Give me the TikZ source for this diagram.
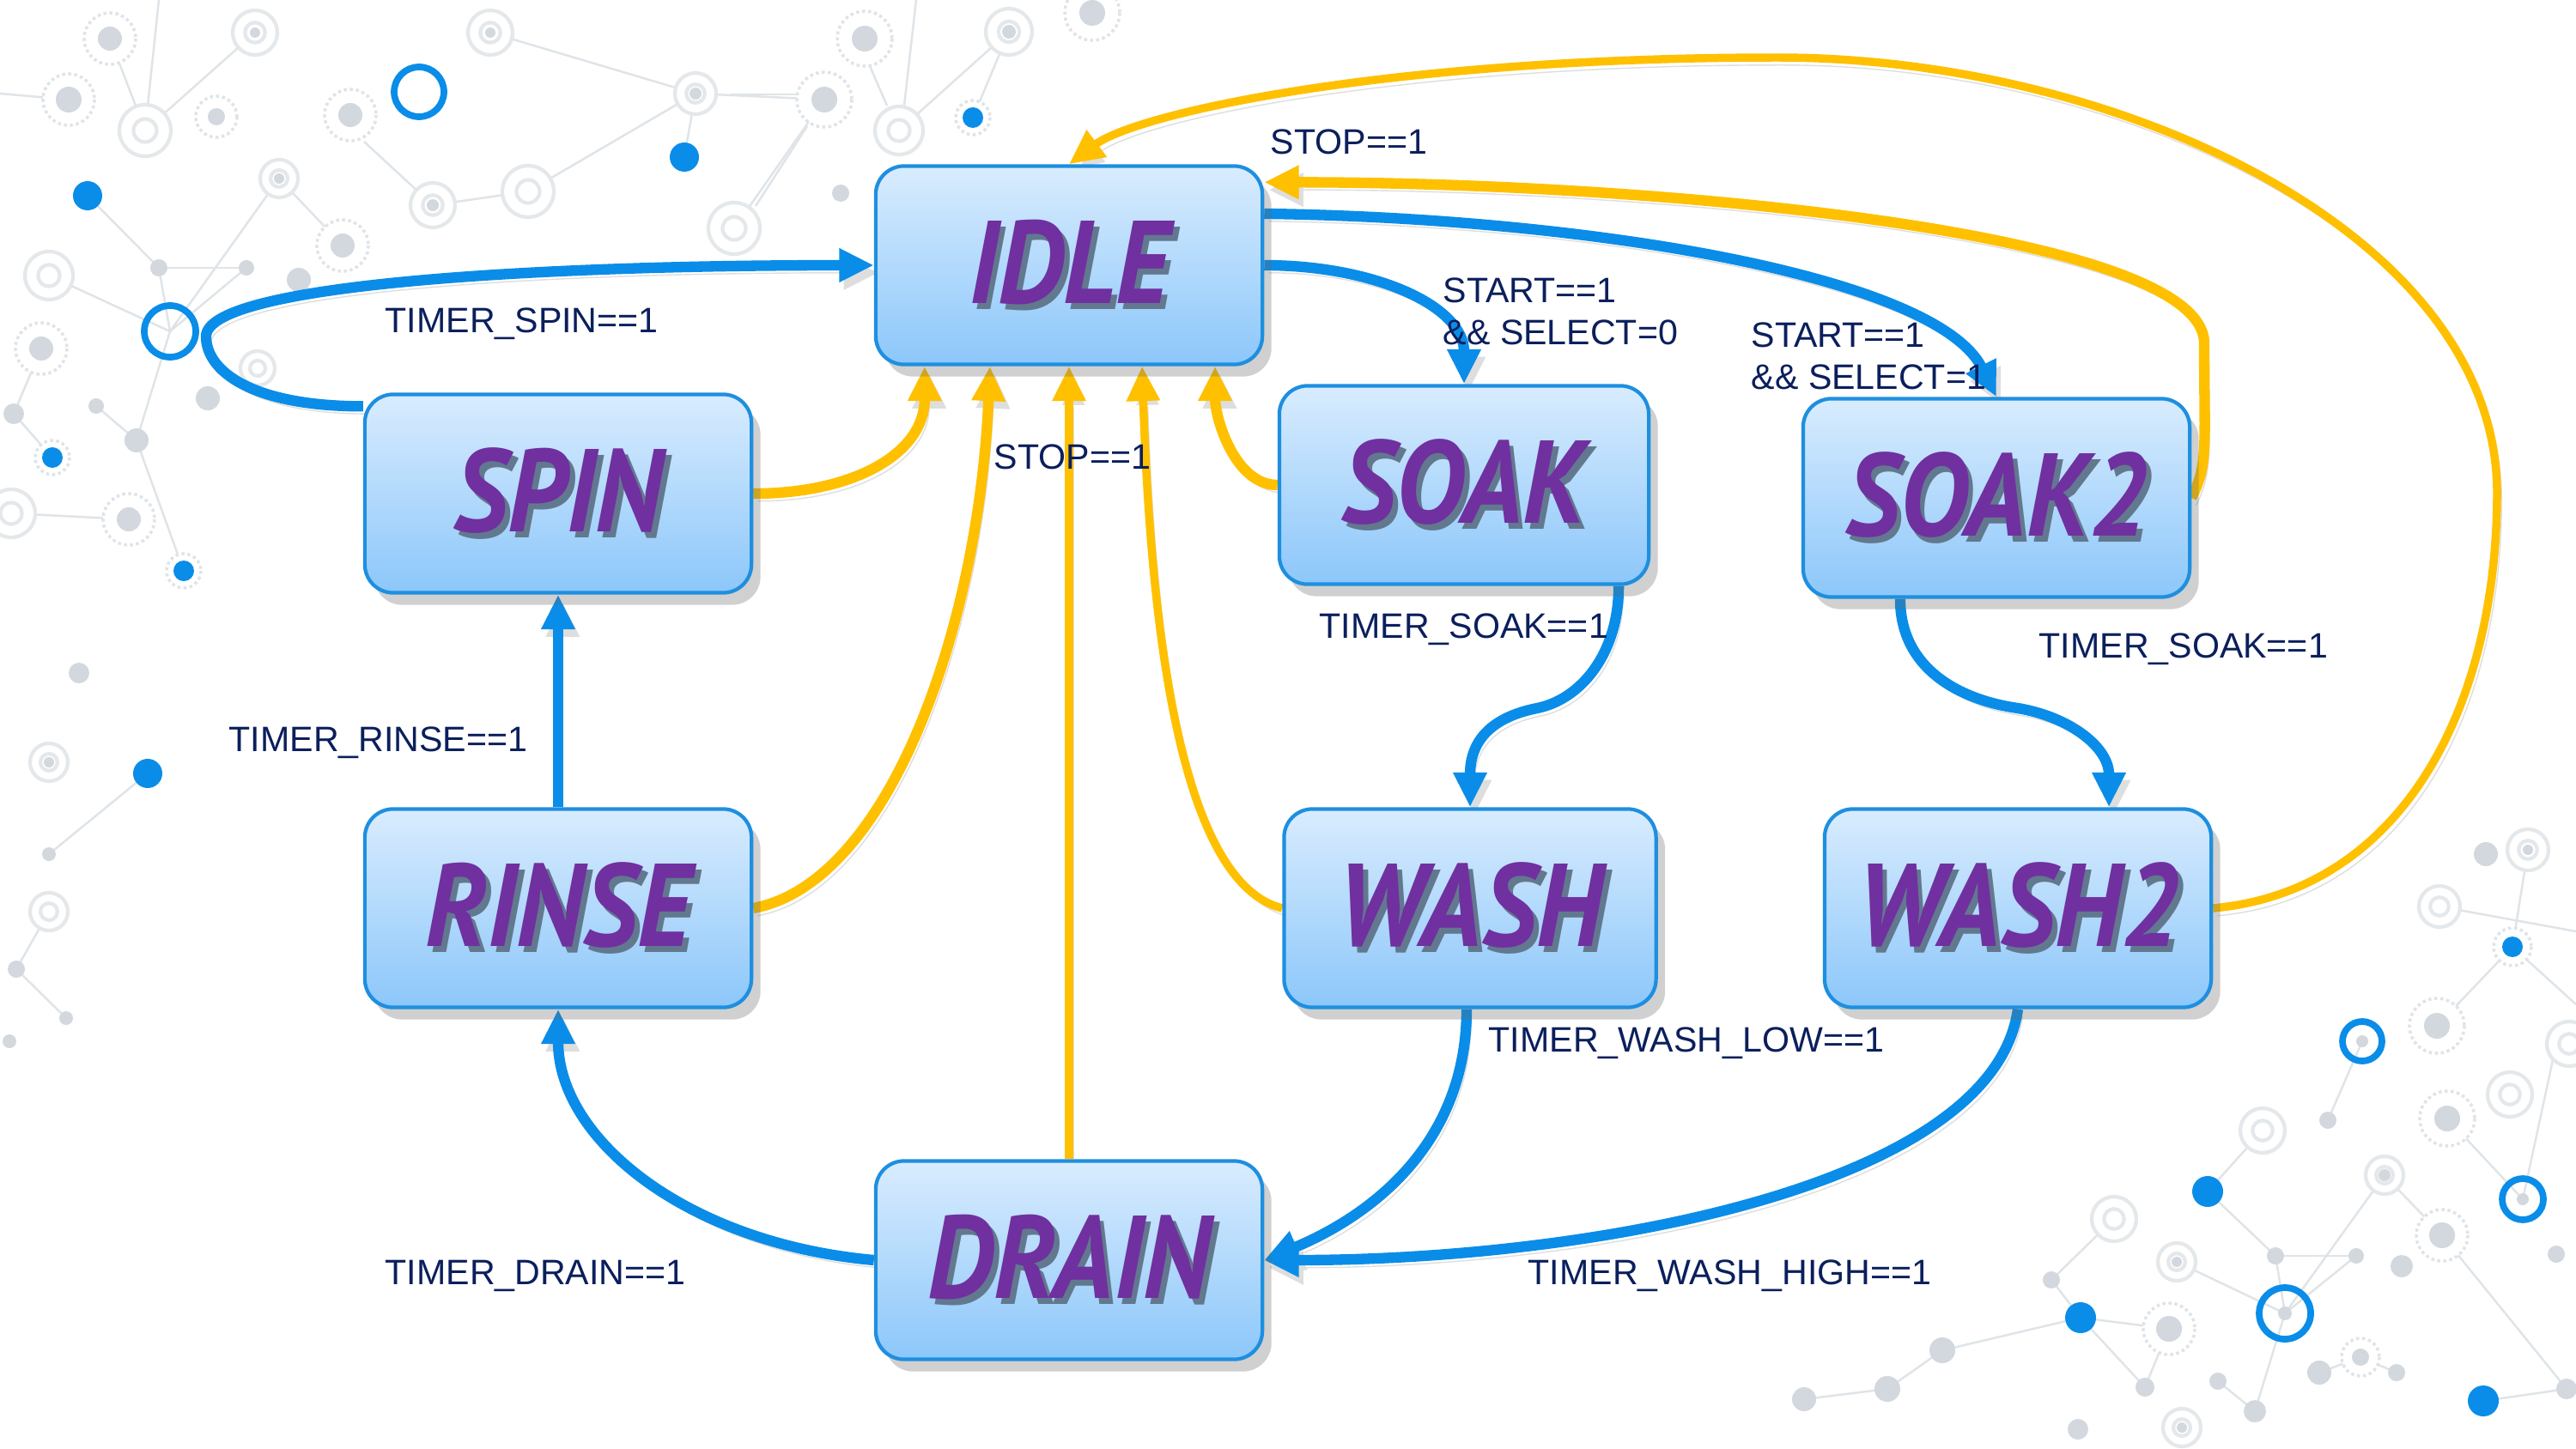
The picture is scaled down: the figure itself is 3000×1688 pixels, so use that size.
\documentclass[tikz,border=0pt]{standalone}
\usepackage{fontspec}
\usepackage{graphicx}
\usetikzlibrary{arrows.meta,shadows}

\newfontfamily\labelfont{Liberation Sans}
\newfontfamily\statefont{PT Sans}

\definecolor{edgeblue}{HTML}{0A8DE8}
\definecolor{stopyellow}{HTML}{FFC000}
\definecolor{boxline}{HTML}{1E8FE0}
\definecolor{boxtop}{HTML}{D9ECFE}
\definecolor{boxbottom}{HTML}{8CC7FA}
\definecolor{labelnavy}{HTML}{0B1F5C}
\definecolor{statepurple}{HTML}{7030A0}
\definecolor{stateshade}{HTML}{62788E}
\definecolor{netgray}{HTML}{D2D8DE}

% state name with a grey shadow behind it
\newcommand{\statename}[1]{\scalebox{0.9}[1]{\makebox[0pt][l]{\hspace{1.8pt}\raisebox{-1.8pt}{\color{stateshade}#1}}\color{statepurple}#1}}

\pgfdeclarelayer{deco}
\pgfdeclarelayer{edges}
\pgfsetlayers{deco,edges,main}

\tikzset{
  statebox/.style={rectangle, rounded corners=0.33cm, draw=boxline, line width=1.2pt,
    top color=boxtop, bottom color=boxbottom, minimum width=4.5cm, minimum height=2.31cm,
    drop shadow={shadow xshift=3pt, shadow yshift=-4pt, opacity=0.3, fill=black!60},
    font=\statefont\bfseries\itshape\fontsize{39}{40}\selectfont},
  guard/.style={anchor=west, inner sep=0pt, text=labelnavy, align=left,
    font=\labelfont\fontsize{11.7}{14}\selectfont},
  edgeshadow/.style={preaction={draw=black!13, transform canvas={shift={(1.5pt,-2.5pt)}}}},
  bluearrow/.style={draw=edgeblue, line width=3.5pt, -{Triangle[width=10.5pt,length=11.5pt]}, edgeshadow},
  stoparrow/.style={draw=stopyellow, line width=3.5pt, -{Triangle[width=10.5pt,length=11.5pt]}, edgeshadow},
  thinstop/.style={stoparrow, line width=2.7pt},
  netdot/.style={fill=netgray},
  netring/.style={draw=netgray!60, line width=1.2pt},
  netdotted/.style={draw=netgray!70, line width=1pt, densely dotted},
  netlink/.style={draw=netgray!70, line width=0.7pt},
  bluedot/.style={fill=edgeblue},
  bluering/.style={draw=edgeblue, line width=2.2pt}
}

\begin{document}
\begin{tikzpicture}[x=0.01cm, y=-0.01cm, line cap=round, line join=round]
\useasboundingbox (0,0) rectangle (3000,1688);

% states
\node[statebox] (idle) at (1245,309) {\statename{IDLE}};
\node[statebox] (spin) at (650,575) {\statename{SPIN}};
\node[statebox, minimum width=4.3cm] (soak) at (1705,565) {\statename{SOAK}};
\node[statebox] (soak2) at (2325,580) {\statename{SOAK2}};
\node[statebox] (rinse) at (650,1058) {\statename{RINSE}};
\node[statebox, minimum width=4.33cm] (wash) at (1712,1058) {\statename{WASH}};
\node[statebox] (wash2) at (2350,1058) {\statename{WASH2}};
\node[statebox] (drain) at (1245,1468) {\statename{DRAIN}};

% bends of the longer connectors
\coordinate (spinloop) at (240,392);
\coordinate (soakbend) at (1790,825);
\coordinate (soak2bend) at (2350,825);
\coordinate (soak2up) at (2567,400);
\coordinate (wash2right) at (2908,574);
\coordinate (wash2top) at (2070,67);

\begin{pgfonlayer}{edges}
  % timer and start transitions
  \draw[bluearrow] ([yshift=-0.16cm]spin.north west) .. controls +(-130,0) and +(0,40) .. (spinloop)
    .. controls +(0,-60) and +(-400,0) .. (idle.west);
  \draw[bluearrow] (rinse.north) -- (spin.south);
  \draw[bluearrow] (drain.west) .. controls +(-220,-20) and +(0,150) .. (rinse.south);
  \draw[bluearrow] (idle.east) .. controls +(130,0) and +(0,-90) .. (soak.north);
  \draw[bluearrow] ([yshift=0.6cm]idle.east) .. controls +(380,5) and +(-70,-140) .. (soak2.north);
  \draw[bluearrow] ([xshift=1.8cm]soak.south) .. controls +(0,80) and +(50,-10) .. (soakbend)
    .. controls +(-50,10) and +(0,-80) .. (wash.north);
  \draw[bluearrow] ([xshift=-1.12cm]soak2.south) .. controls +(0,80) and +(-70,-10) .. (soak2bend)
    .. controls +(60,10) and +(0,-70) .. ([xshift=1.06cm]wash2.north);
  \draw[bluearrow] ([xshift=-0.04cm]wash.south) .. controls +(0,160) and +(120,-50) .. (drain.east);
  \draw[bluearrow] (wash2.south) .. controls +(-29,207) and +(380,0) .. (drain.east);

  % stop transitions
  \draw[stoparrow] (spin.east) .. controls +(120,0) and +(0,100) .. ([xshift=-1.68cm]idle.south);
  \draw[stoparrow] (rinse.east) .. controls +(160,-30) and +(-13,300) .. ([xshift=-0.92cm]idle.south);
  \draw[thinstop] (drain.north) -- (idle.south);
  \draw[thinstop] (wash.west) .. controls +(-120,-30) and +(10,300) .. ([xshift=0.85cm]idle.south);
  \draw[stoparrow] (soak.west) .. controls +(-50,0) and +(0,60) .. ([xshift=1.7cm]idle.south);
  \draw[stoparrow] (soak2.east) .. controls +(20,-40) and +(0,120) .. (soak2up)
    .. controls +(0,-130) and +(450,0) .. ([yshift=-0.21cm]idle.north east);
  \draw[thinstop] (wash2.east) .. controls +(220,-20) and +(0,250) .. (wash2right)
    .. controls +(0,-300) and +(400,0) .. (wash2top)
    .. controls +(-450,0) and +(80,-60) .. (idle.north);
\end{pgfonlayer}

% guards
\node[guard] (g-spin) at (448,377) {TIMER\_SPIN==1};
\node[guard] (g-stoptop) at (1479,165) {STOP==1};
\node[guard] (g-stopmid) at (1157,532) {STOP==1};
\node[guard] (g-start0) at (1680,363) {START==1\\\&\& SELECT=0};
\node[guard] (g-start1) at (2039,415) {START==1\\\&\& SELECT=1};
\node[guard] (g-soak) at (1536,733) {TIMER\_SOAK==1};
\node[guard] (g-soak2) at (2374,756) {TIMER\_SOAK==1};
\node[guard] (g-rinse) at (266,865) {TIMER\_RINSE==1};
\node[guard] (g-washlow) at (1733,1215) {TIMER\_WASH\_LOW==1};
\node[guard] (g-drain) at (448,1486) {TIMER\_DRAIN==1};
\node[guard] (g-washhigh) at (1779,1486) {TIMER\_WASH\_HIGH==1};

% background network
\begin{pgfonlayer}{deco}
  \fill[white] (0,0) rectangle (3000,1688);
  \foreach \xa/\ya/\xb/\yb in {0/109/80/116, 128/45/169/152, 169/152/297/38, 185/0/169/152,
      102/228/185/312, 185/312/287/312, 185/312/198/386, 287/312/198/386, 198/386/325/208,
      325/208/399/286, 57/321/198/386, 198/386/159/513, 112/473/159/513, 504/239/615/223,
      615/223/810/109, 571/38/810/109, 810/109/797/183, 855/266/960/116, 810/109/960/116,
      424/165/504/239, 850/110/927/110, 1013/77/1033/123, 1067/0/1053/123, 1047/152/1175/37,
      1175/37/1133/137, 940/147/880/240, 16/482/48/406, 159/513/214/665, 13/598/150/605,
      61/533/16/482, 172/901/57/995, 57/1062/19/1129, 19/1129/77/1186,
      2101/1630/2198/1618, 2198/1618/2262/1573, 2262/1573/2423/1535, 2423/1535/2389/1491,
      2389/1491/2462/1420, 2423/1535/2526/1548, 2423/1535/2498/1616, 2526/1548/2498/1616,
      2571/1388/2650/1463, 2650/1463/2661/1530, 2661/1530/2626/1644, 2650/1463/2744/1463,
      2661/1530/2777/1369, 2744/1463/2661/1530, 2535/1470/2661/1530, 2711/1305/2751/1213,
      2635/1317/2571/1388, 2850/1303/2938/1397, 2926/1103/2944/990, 2841/1056/3000/1085,
      2926/1103/3000/1170, 2926/1103/2838/1195, 2938/1397/2977/1216, 2844/1439/2777/1369,
      2844/1439/2989/1618, 2892/1632/2989/1618, 2626/1644/2583/1609, 2701/1599/2749/1581,
      2749/1581/2791/1599}
    \draw[netlink] (\xa,\ya) -- (\xb,\yb);
  \foreach \x/\y/\r in {169/152/30, 615/223/30, 855/266/30, 57/321/28, 1047/152/28, 1175/37/27,
      297/38/26, 571/38/26, 504/239/26, 810/109/24, 325/208/22, 13/598/28, 300/429/20, 57/888/22,
      57/1062/22, 2944/990/24, 2841/1056/24, 2992/1216/26, 2635/1317/26, 2923/1275/26,
      2777/1369/22, 2462/1420/26, 2535/1470/22, 2541/1663/22}
    \draw[netring, fill=white] (\x,\y) circle[radius=\r] (\x,\y) circle[radius=0.45*\r];
  \foreach \x/\y/\r in {128/45/30, 80/116/30, 252/136/24, 408/134/30, 399/286/30, 48/406/30,
      150/605/30, 960/116/32, 1007/45/32, 1272/15/32, 1133/137/20, 2838/1195/32, 2850/1303/32,
      2844/1439/30, 2526/1548/30, 2749/1581/22, 61/533/20, 214/665/20, 2926/1103/22}
    \draw[netdotted, fill=white] (\x,\y) circle[radius=\r];
  \foreach \x/\y/\r in {128/45/14, 80/116/15, 252/136/10, 408/134/14, 399/286/14, 348/326/14,
      185/312/10, 287/312/9, 48/406/14, 242/464/14, 112/473/9, 16/482/12, 159/513/14, 150/605/14,
      960/116/15, 1007/45/15, 1272/15/15, 979/225/10, 297/38/6, 571/38/6, 504/239/7, 325/208/6,
      810/109/7, 1175/37/8, 92/784/12, 57/995/8, 19/1129/10, 77/1186/8, 11/1213/8, 57/888/6,
      2895/995/14, 2944/990/6, 2838/1195/15, 2751/1213/7, 2711/1305/10, 2850/1303/15,
      2777/1369/7, 2938/1397/7, 2650/1463/10, 2744/1463/9, 2844/1439/15, 2797/1475/13,
      2389/1491/10, 2526/1548/15, 2262/1573/15, 2198/1618/15, 2101/1630/14, 2498/1616/11,
      2583/1609/10, 2626/1644/13, 2701/1599/14, 2749/1581/10, 2791/1599/10, 2989/1618/12,
      2977/1461/10, 2420/1665/12, 2661/1530/8, 2541/1663/6, 2535/1470/6}
    \fill[netdot] (\x,\y) circle[radius=\r];
  \foreach \x/\y/\r in {797/183/17, 102/228/17, 1133/137/12, 61/533/12, 214/665/12, 172/901/17,
      2926/1103/12, 2571/1388/18, 2423/1535/18, 2892/1632/18}
    \fill[bluedot] (\x,\y) circle[radius=\r];
  \foreach \x/\y/\r in {488/107/29, 198/386/30, 2751/1213/23, 2938/1397/24, 2661/1530/30}
    \draw[bluering] (\x,\y) circle[radius=\r];
\end{pgfonlayer}
\end{tikzpicture}
\end{document}
